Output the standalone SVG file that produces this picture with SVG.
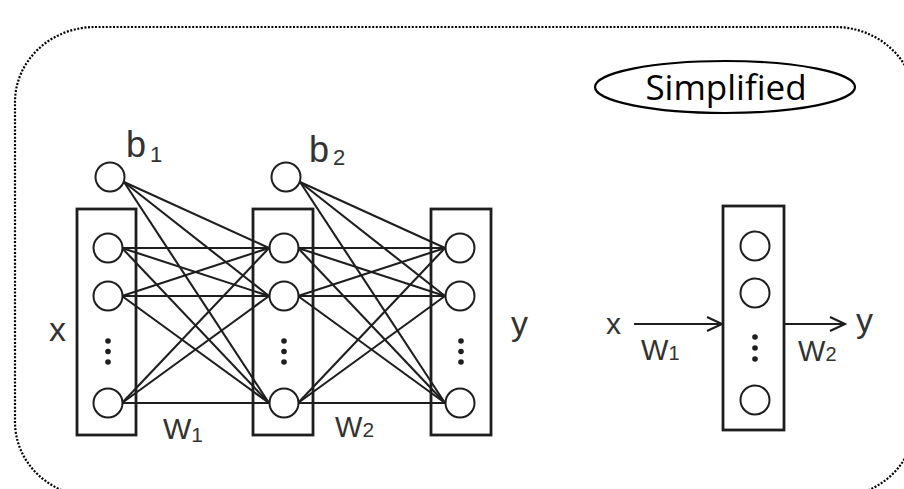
<svg xmlns="http://www.w3.org/2000/svg" width="904" height="489" viewBox="0 0 904 489">
<style>
.frame{fill:none;stroke:#000;stroke-width:2.2;stroke-dasharray:2 1.6}
.box{fill:none;stroke:#1e1e1e;stroke-width:2.8}
.node{fill:#fff;stroke:#1e1e1e;stroke-width:2}
.dot{fill:#1e1e1e}
.edge{stroke:#1e1e1e;stroke-width:2.1;fill:none}
.lbl{font-family:"Liberation Sans",Arial,sans-serif;fill:#333}
.title{font-family:"Open Sans","Noto Sans",sans-serif;font-size:35px;fill:#000}
</style>
<defs>
<marker id="chev" markerWidth="18" markerHeight="16" refX="16" refY="8" orient="auto" markerUnits="userSpaceOnUse">
<path d="M1,1 L16,8 L1,15" fill="none" stroke="#1e1e1e" stroke-width="2.2"/>
</marker>
</defs>
<rect class="frame" x="15" y="27" width="900" height="470" rx="80" ry="75"/>

<g id="connectors">
<line class="edge" x1="122" y1="248" x2="269" y2="248"/>
<line class="edge" x1="122" y1="248" x2="269" y2="296"/>
<line class="edge" x1="122" y1="248" x2="269" y2="403"/>
<line class="edge" x1="122" y1="296" x2="269" y2="248"/>
<line class="edge" x1="122" y1="296" x2="269" y2="296"/>
<line class="edge" x1="122" y1="296" x2="269" y2="403"/>
<line class="edge" x1="122" y1="403" x2="269" y2="248"/>
<line class="edge" x1="122" y1="403" x2="269" y2="296"/>
<line class="edge" x1="122" y1="403" x2="269" y2="403"/>
<line class="edge" x1="124" y1="182" x2="269" y2="248"/>
<line class="edge" x1="124" y1="182" x2="269" y2="296"/>
<line class="edge" x1="124" y1="182" x2="269" y2="403"/>
<line class="edge" x1="298" y1="248" x2="445" y2="248"/>
<line class="edge" x1="298" y1="248" x2="445" y2="296"/>
<line class="edge" x1="298" y1="248" x2="445" y2="403"/>
<line class="edge" x1="298" y1="296" x2="445" y2="248"/>
<line class="edge" x1="298" y1="296" x2="445" y2="296"/>
<line class="edge" x1="298" y1="296" x2="445" y2="403"/>
<line class="edge" x1="298" y1="403" x2="445" y2="248"/>
<line class="edge" x1="298" y1="403" x2="445" y2="296"/>
<line class="edge" x1="298" y1="403" x2="445" y2="403"/>
<line class="edge" x1="300" y1="182" x2="445" y2="248"/>
<line class="edge" x1="300" y1="182" x2="445" y2="296"/>
<line class="edge" x1="300" y1="182" x2="445" y2="403"/>
<line class="edge" x1="634" y1="324" x2="722" y2="324" marker-end="url(#chev)"/>
<line class="edge" x1="785" y1="324" x2="845" y2="324" marker-end="url(#chev)"/>
</g>

<g id="layer1">
<rect class="box" x="77" y="209" width="59" height="226"/>
<circle class="node" cx="108" cy="248" r="14.5"/>
<circle class="node" cx="108" cy="296" r="14.5"/>
<circle class="dot" cx="108" cy="341" r="2.8"/>
<circle class="dot" cx="108" cy="351.5" r="2.8"/>
<circle class="dot" cx="108" cy="362" r="2.8"/>
<circle class="node" cx="108" cy="403" r="14.5"/>
</g>
<g id="layer2">
<rect class="box" x="253" y="209" width="60" height="226"/>
<circle class="node" cx="284" cy="248" r="14.5"/>
<circle class="node" cx="284" cy="296" r="14.5"/>
<circle class="dot" cx="284" cy="341" r="2.8"/>
<circle class="dot" cx="284" cy="351.5" r="2.8"/>
<circle class="dot" cx="284" cy="362" r="2.8"/>
<circle class="node" cx="284" cy="403" r="14.5"/>
</g>
<g id="layer3">
<rect class="box" x="431" y="209" width="60" height="226"/>
<circle class="node" cx="460" cy="248" r="14.5"/>
<circle class="node" cx="460" cy="296" r="14.5"/>
<circle class="dot" cx="461" cy="341" r="2.8"/>
<circle class="dot" cx="461" cy="351.5" r="2.8"/>
<circle class="dot" cx="461" cy="362" r="2.8"/>
<circle class="node" cx="460" cy="403" r="14.5"/>
</g>
<g id="bias1">
<circle class="node" cx="110" cy="177" r="14.5"/>
<text class="lbl" x="126" y="157" font-size="36">b<tspan font-size="22" dx="4" dy="5">1</tspan></text>
</g>
<g id="bias2">
<circle class="node" cx="286" cy="177" r="14.5"/>
<text class="lbl" x="309" y="162" font-size="36">b<tspan font-size="22" dx="4" dy="3">2</tspan></text>
</g>
<g id="labels-left">
<text class="lbl" font-size="34" x="49" y="341">x</text>
<text class="lbl" font-size="34" x="511" y="335">y</text>
<text class="lbl" font-size="30" x="163" y="439">W<tspan font-size="21" dy="3">1</tspan></text>
<text class="lbl" font-size="29" x="335" y="437">W<tspan font-size="21">2</tspan></text>
</g>

<g id="simplified-title">
<ellipse cx="725" cy="87" rx="130" ry="26" fill="none" stroke="#000" stroke-width="2.2"/>
<text class="title" x="726" y="100" text-anchor="middle">Simplified</text>
</g>
<g id="hidden-layer">
<rect class="box" x="723" y="206" width="61" height="224"/>
<circle class="node" cx="755" cy="246" r="14.5"/>
<circle class="node" cx="755" cy="293" r="14.5"/>
<circle class="dot" cx="755" cy="337" r="2.8"/>
<circle class="dot" cx="755" cy="348" r="2.8"/>
<circle class="dot" cx="755" cy="359" r="2.8"/>
<circle class="node" cx="755" cy="400" r="14.5"/>
</g>
<g id="labels-right">
<text class="lbl" font-size="30" x="606" y="334">x</text>
<text class="lbl" font-size="34" x="856" y="332">y</text>
<text class="lbl" font-size="29" x="641" y="360">W<tspan font-size="20">1</tspan></text>
<text class="lbl" font-size="29" x="798" y="361">W<tspan font-size="20">2</tspan></text>
</g>
</svg>
